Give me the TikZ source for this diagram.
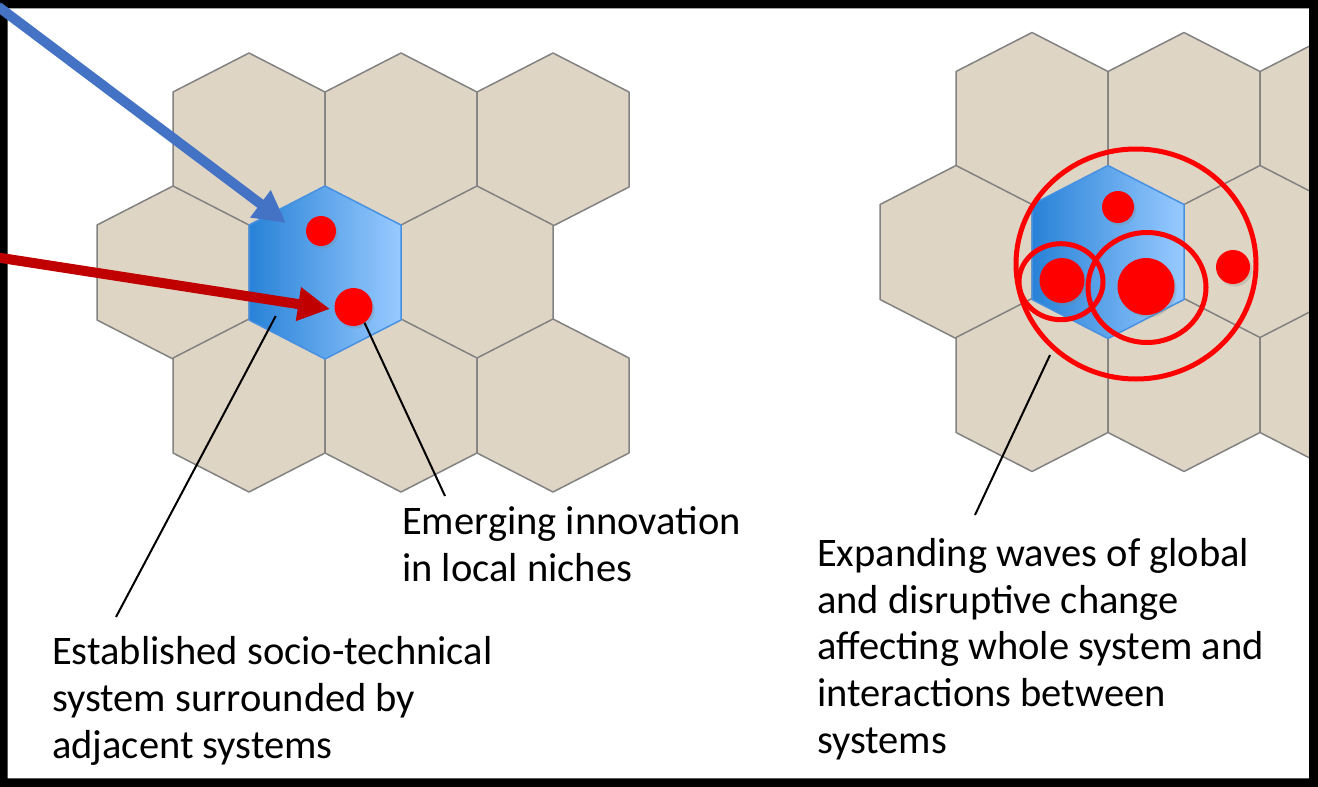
\documentclass[tikz,border=0pt]{standalone}
\usepackage{fontspec}
\setmainfont{Carlito}
\usetikzlibrary{arrows.meta,shadows}
\definecolor{tan}{RGB}{223,213,196}
\definecolor{hexline}{RGB}{130,130,130}
\definecolor{bluedark}{RGB}{40,130,215}
\definecolor{bluelight}{RGB}{152,202,255}
\definecolor{blueedge}{RGB}{70,145,225}
\definecolor{arrowblue}{RGB}{68,114,196}
\definecolor{arrowred}{RGB}{192,0,0}
\definecolor{dotred}{RGB}{255,0,0}
\tikzset{
  hexcell/.pic={\path[pic actions] (-76,-47.5) -- (0,-86.5) -- (76,-47.5) -- (76,47.5) -- (0,86.5) -- (-76,47.5) -- cycle;},
  tanhex/.style={fill=tan,draw=hexline,line width=1.5pt,line join=round},
  dot/.style={circle,fill=dotred,inner sep=0pt,draw=none,
    drop shadow={opacity=0.25,shadow xshift=2pt,shadow yshift=-2.5pt}},
  wave/.style={draw=dotred,line width=5pt},
  callout/.style={draw=black,line width=2pt},
  bigarrow/.style={line width=10pt,-{Triangle[length=32pt,width=32pt]}},
  label/.style={font=\fontsize{40.5}{46.7}\selectfont,align=left,anchor=base west,inner sep=0pt}
}
\begin{document}
\begin{tikzpicture}[x=1pt,y=-1pt]
\useasboundingbox (0,0) rectangle (1318,787);
\fill[white] (0,0) rectangle (1318,787);
% left cluster
\foreach \cx/\cy in {249/139.5,401/139.5,553/139.5,173/272.5,477/272.5,249/405.5,401/405.5,553/405.5}
  \pic[tanhex] at (\cx,\cy) {hexcell};
\coordinate (lc) at (325,272.5);
\shade[left color=bluedark,right color=bluelight,draw=blueedge,line width=1.5pt,line join=round]
  (lc) ++(-76,-47.5) -- ++(76,-39) -- ++(76,39) -- ++(0,95) -- ++(-76,39) -- ++(-76,-39) -- cycle;
\node[dot,minimum size=30pt] (ld1) at (321,231) {};
\node[dot,minimum size=38pt] (ld2) at (353.5,307) {};
% right cluster
\foreach \cx/\cy in {1032/119,1184/119,1336/119,956/252,1260/252,1032/385,1184/385,1336/385}
  \pic[tanhex] at (\cx,\cy) {hexcell};
\coordinate (rc) at (1108,252);
\shade[left color=bluedark,right color=bluelight,draw=blueedge,line width=1.5pt,line join=round]
  (rc) ++(-76,-47.5) -- ++(76,-39) -- ++(76,39) -- ++(0,95) -- ++(-76,39) -- ++(-76,-39) -- cycle;
\node[dot,minimum size=32pt] (rd1) at (1118,207) {};
\node[dot,minimum size=45pt] (rd2) at (1062,280.5) {};
\node[dot,minimum size=57pt] (rd3) at (1146,286.5) {};
\node[dot,minimum size=34pt] (rd4) at (1233,267) {};
\draw[wave] (1136,264) ellipse [x radius=120,y radius=115];
\draw[wave] (1147,287.5) ellipse [x radius=59,y radius=55];
\draw[wave] (1061,281.7) ellipse [x radius=42,y radius=38];
% callouts
\coordinate (l1a) at (275.7,316);
\coordinate (l1b) at (116,617);
\coordinate (l2b) at (445,496);
\coordinate (l3a) at (1050,355);
\coordinate (l3b) at (975,515);
\draw[callout] (l1a) -- (l1b);
\draw[callout] (ld2.-55) -- (l2b);
\draw[callout] (l3a) -- (l3b);
% frame
\fill[black,even odd rule] (0,0) rectangle (1318,787) (7.5,8.3) rectangle (1309,778.3);
% arrows
\coordinate (ba) at (-2,6.5);
\coordinate (bt) at (286,223);
\coordinate (ra) at (-2,257.5);
\coordinate (rt) at (330,309);
\draw[bigarrow,arrowblue] (ba) -- (bt);
\draw[bigarrow,arrowred] (ra) -- (rt);
% texts (anchor = baseline of the last line)
\node[label] (t1) at (402,581) {Emerging innovation\\in local niches};
\node[label] (t2) at (52,758.3) {Established socio-technical\\system surrounded by\\adjacent systems};
\node[label] (t3) at (817,753.3) {Expanding waves of global\\and disruptive change\\affecting whole system and\\interactions between\\systems};
\end{tikzpicture}
\end{document}
